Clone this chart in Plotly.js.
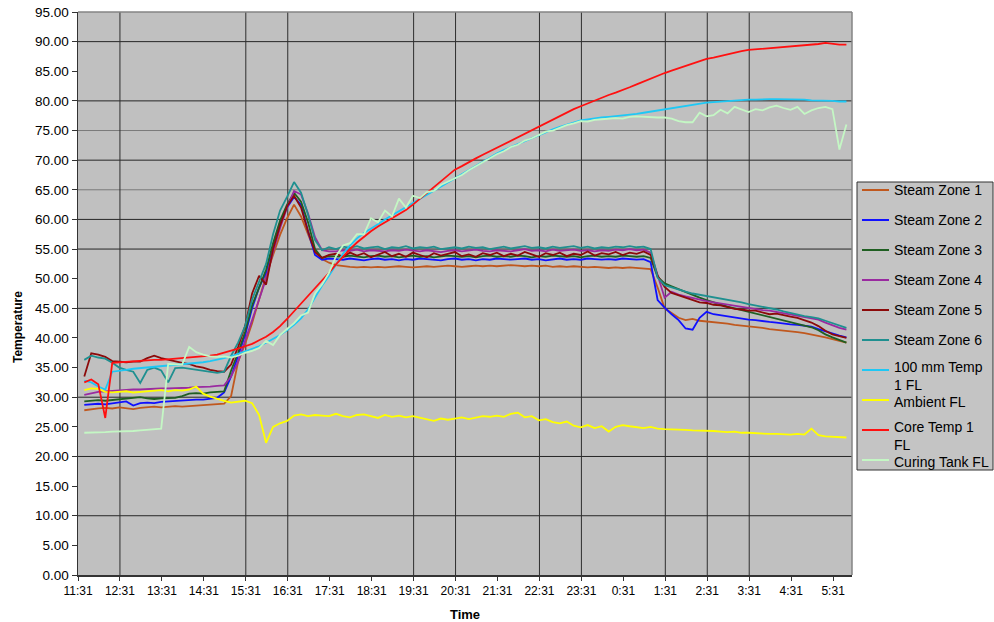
<!DOCTYPE html>
<html>
<head>
<meta charset="utf-8">
<script src="https://cdn.plot.ly/plotly-3.0.1.min.js"></script>
<style>
  html, body { margin: 0; padding: 0; background: #ffffff; }
  #chart { width: 994px; height: 622px; }
</style>
</head>
<body>
<div id="chart"></div>
<script>
// Hourly axis labels
const timeLabels = ['11:31','12:31','13:31','14:31','15:31','16:31','17:31','18:31','19:31','20:31',
  '21:31','22:31','23:31','0:31','1:31','2:31','3:31','4:31','5:31'];

// Logger sample times (every 10 minutes, overnight run)
const sampleTimes = [
  '11:40','11:50','12:00','12:10','12:20','12:30',
  '12:40','12:50','13:00','13:10','13:20','13:30',
  '13:40','13:50','14:00','14:10','14:20','14:30',
  '14:40','14:50','15:00','15:10','15:20','15:30',
  '15:40','15:50','16:00','16:10','16:20','16:30',
  '16:40','16:50','17:00','17:10','17:20','17:30',
  '17:40','17:50','18:00','18:10','18:20','18:30',
  '18:40','18:50','19:00','19:10','19:20','19:30',
  '19:40','19:50','20:00','20:10','20:20','20:30',
  '20:40','20:50','21:00','21:10','21:20','21:30',
  '21:40','21:50','22:00','22:10','22:20','22:30',
  '22:40','22:50','23:00','23:10','23:20','23:30',
  '23:40','23:50','0:00','0:10','0:20','0:30',
  '0:40','0:50','1:00','1:10','1:20','1:30',
  '1:40','1:50','2:00','2:10','2:20','2:30',
  '2:40','2:50','3:00','3:10','3:20','3:30',
  '3:40','3:50','4:00','4:10','4:20','4:30',
  '4:40','4:50','5:00','5:10','5:20','5:30',
  '5:40','5:50'
];

const steamZone1 = [
  27.8, 28.0, 28.1, 28.2, 28.1, 28.3,
  28.2, 28.0, 28.2, 28.3, 28.4, 28.3,
  28.4, 28.5, 28.4, 28.5, 28.6, 28.6,
  28.7, 28.8, 28.9, 30.2, 36.0, 39.0,
  42.5, 46.5, 50.5, 54.0, 57.4, 60.2,
  62.5, 60.5, 57.5, 54.5, 53.3, 52.7,
  52.3, 52.1, 52.0, 51.9, 52.0, 51.9,
  52.0, 51.9, 52.0, 52.1, 52.0, 51.9,
  52.0, 52.1, 52.0, 52.1, 52.2, 52.1,
  52.0, 52.1, 52.2, 52.1, 52.2, 52.1,
  52.2, 52.3, 52.2, 52.1, 52.2, 52.1,
  52.2, 52.0, 52.1, 52.0, 52.1, 52.0,
  51.9, 52.0, 51.9, 51.8, 51.9, 51.8,
  51.9, 51.8, 51.8, 51.6, 48.5, 45.0,
  44.2, 43.4, 43.0, 43.2, 42.9, 42.8,
  42.7, 42.5, 42.4, 42.2, 42.1, 41.9,
  41.8, 41.7, 41.5, 41.4, 41.3, 41.1,
  41.0, 40.8, 40.6, 40.4, 40.1, 39.8,
  39.5, 39.2
];

const steamZone2 = [
  28.7, 28.8, 28.9, 28.8, 29.0, 29.1,
  29.3, 28.6, 29.0, 29.1, 29.0, 29.2,
  29.3, 29.3, 29.4, 29.5, 29.6, 29.6,
  29.7, 29.9, 30.8, 33.5, 37.0, 40.5,
  45.0, 48.5, 51.0, 55.5, 59.5, 62.0,
  63.8, 62.5, 58.0, 54.0, 53.2, 53.4,
  53.3, 53.2, 53.4, 53.3, 53.1, 53.3,
  53.4, 53.2, 53.3, 53.1, 53.3, 53.2,
  53.4, 53.3, 53.2, 53.1, 53.3, 53.4,
  53.2, 53.3, 53.1, 53.3, 53.2, 53.4,
  53.3, 53.2, 53.3, 53.4, 53.2, 53.3,
  53.1, 53.3, 53.4, 53.2, 53.3, 53.2,
  53.4, 53.3, 53.2, 53.3, 53.2, 53.4,
  53.3, 53.2, 53.3, 52.8, 46.4, 45.1,
  44.0, 43.0, 41.6, 41.4, 43.4, 44.4,
  44.0, 43.8, 43.6, 43.4, 43.3, 43.1,
  43.0, 42.8, 42.7, 42.6, 42.4, 42.3,
  42.2, 42.0, 41.9, 41.5, 41.1, 40.7,
  40.4, 40.1
];

const steamZone3 = [
  29.3, 29.4, 29.5, 29.4, 29.5, 29.6,
  29.7, 29.8, 30.0, 29.8, 29.7, 29.8,
  29.9, 29.9, 30.2, 30.6, 30.7, 30.6,
  30.8, 30.9, 31.0, 34.5, 37.5, 41.0,
  45.5, 48.5, 51.5, 56.0, 59.8, 62.5,
  64.5, 63.0, 59.5, 55.0, 53.5, 53.8,
  53.8, 53.7, 53.9, 53.8, 53.6, 53.8,
  53.9, 53.7, 53.8, 53.6, 53.8, 53.9,
  53.7, 53.8, 53.6, 53.7, 53.9, 53.8,
  53.7, 53.8, 53.6, 53.8, 53.9, 53.7,
  53.8, 53.7, 53.9, 53.8, 53.6, 53.8,
  53.7, 53.9, 53.8, 53.7, 53.8, 53.6,
  53.8, 53.9, 53.7, 53.8, 53.7, 53.9,
  53.8, 53.7, 53.8, 53.5, 50.3, 49.2,
  48.7, 48.2, 47.8, 47.3, 46.8, 46.4,
  46.0, 45.6, 45.3, 45.0, 44.7, 44.4,
  44.1, 43.8, 43.5, 43.2, 42.9, 42.6,
  42.3, 42.1, 41.8, 41.3, 40.6, 40.1,
  39.6, 39.2
];

const steamZone4 = [
  30.4, 30.7, 30.9, 31.0, 31.1, 31.2,
  31.3, 31.3, 31.3, 31.4, 31.4, 31.5,
  31.5, 31.5, 31.6, 31.6, 31.7, 31.7,
  31.8, 31.9, 32.0, 33.5, 36.0, 39.5,
  43.0, 46.5, 50.0, 54.5, 58.5, 62.0,
  64.8, 64.2, 61.0, 57.0, 54.8, 54.6,
  54.6, 54.8, 54.7, 54.9, 54.6, 54.8,
  54.7, 54.6, 54.8, 54.7, 54.9, 54.7,
  54.6, 54.8, 54.7, 54.5, 54.7, 54.8,
  54.6, 54.7, 54.9, 54.7, 54.6, 54.8,
  54.7, 54.6, 54.8, 55.0, 54.7, 54.8,
  54.6, 54.9, 54.7, 54.8, 54.9, 54.7,
  54.8, 54.6, 54.8, 54.7, 54.9, 54.8,
  55.0, 54.8, 54.9, 54.4, 50.5, 46.8,
  47.8, 47.3, 47.0, 46.7, 46.4, 46.2,
  46.0, 45.8, 45.6, 45.4, 45.2, 45.0,
  44.9, 44.7, 44.6, 44.4, 44.2, 44.0,
  43.8, 43.6, 43.4, 43.1, 42.6, 42.1,
  41.7, 41.4
];

const steamZone5 = [
  33.5, 37.4, 37.2, 36.8, 36.1, 36.0,
  35.9, 36.0, 36.0, 36.6, 37.0, 36.6,
  36.3, 36.1, 35.8, 35.6, 35.2, 35.0,
  34.6, 34.4, 34.3, 35.5, 38.5, 42.0,
  47.5, 50.5, 49.0, 55.0, 59.0, 62.2,
  64.0, 62.0, 58.0, 54.5, 53.5, 54.0,
  54.2, 53.7, 54.4, 53.9, 54.3, 53.6,
  54.1, 54.5, 53.8, 54.2, 53.7, 54.4,
  54.0, 53.6, 54.3, 53.9, 54.2, 54.5,
  53.8, 54.1, 53.7, 54.3, 54.0, 54.4,
  53.8, 54.2, 53.9, 54.5, 54.1, 53.7,
  54.3, 54.0, 54.4, 53.8, 54.2, 54.0,
  54.6, 53.9, 54.3, 54.1, 54.5, 54.0,
  54.4, 54.2, 54.6, 54.0, 50.5, 48.6,
  47.6, 47.2, 46.8, 46.3, 46.0, 45.9,
  45.6, 45.5, 45.2, 44.9, 44.8, 44.6,
  44.6, 44.3, 44.0, 44.1, 43.8, 43.6,
  43.4, 43.0, 42.6, 42.0, 41.2, 40.6,
  40.3, 40.0
];

const steamZone6 = [
  36.3, 37.0, 36.7, 36.5, 35.8, 35.0,
  34.6, 34.3, 32.4, 34.6, 35.0, 34.5,
  32.5, 34.9, 35.0, 34.8, 34.6, 34.5,
  34.3, 34.1, 34.3, 37.0, 39.2, 42.0,
  46.5, 49.5, 52.5, 57.5, 61.5, 63.8,
  66.3, 64.5, 60.8, 56.5, 54.8, 55.3,
  55.0, 55.4, 55.2, 55.5, 55.1, 55.3,
  55.4, 55.0, 55.3, 55.2, 55.5, 55.1,
  55.3, 55.2, 55.4, 55.0, 55.2, 55.3,
  55.1, 55.4, 55.2, 55.3, 55.0, 55.2,
  55.4, 55.1, 55.3, 55.5, 55.2, 55.3,
  55.1, 55.4, 55.2, 55.3, 55.5, 55.2,
  55.4, 55.1, 55.3, 55.2, 55.4, 55.3,
  55.5, 55.3, 55.4, 55.0, 50.2, 48.9,
  48.5, 48.1, 47.8, 47.5, 47.3, 47.0,
  46.8, 46.6, 46.4, 46.2, 46.0, 45.7,
  45.5, 45.3, 45.0, 44.8, 44.5, 44.2,
  43.9, 43.7, 43.5, 43.3, 42.9, 42.5,
  42.1, 41.7
];

const probe100mm = [
  32.8, 32.5, 31.8, 31.3, 34.3, 34.4,
  34.6, 34.8, 34.9, 35.0, 35.1, 35.2,
  35.3, 35.4, 35.5, 35.6, 35.8, 35.9,
  36.1, 36.3, 36.6, 36.9, 37.3, 37.7,
  38.1, 38.6, 39.2, 39.8, 40.5, 41.3,
  42.2, 43.3, 44.8, 46.8, 48.8, 50.5,
  52.4, 54.2, 55.6, 56.8, 57.7, 58.4,
  59.2, 60.0, 60.7, 61.4, 62.1, 62.8,
  63.5, 64.2, 64.9, 65.6, 66.3, 67.0,
  67.7, 68.4, 69.1, 69.8, 70.5, 71.1,
  71.7, 72.2, 72.8, 73.3, 73.8, 74.3,
  74.8, 75.2, 75.6, 76.0, 76.4, 76.7,
  76.9, 77.1, 77.2, 77.3, 77.4, 77.5,
  77.7, 77.8, 78.0, 78.2, 78.4, 78.6,
  78.8, 79.0, 79.2, 79.4, 79.6, 79.7,
  79.8, 79.9, 80.0, 80.1, 80.1, 80.2,
  80.2, 80.3, 80.3, 80.3, 80.3, 80.3,
  80.2, 80.2, 80.1, 80.1, 80.0, 80.0,
  79.9, 79.9
];

const ambient = [
  31.2, 31.5, 31.4, 30.9, 30.8, 30.9,
  31.0, 30.8, 30.9, 31.1, 31.2, 31.2,
  31.0, 31.2, 31.1, 31.3, 31.8, 30.6,
  30.1, 29.7, 29.4, 29.1, 29.2, 29.4,
  29.0, 27.0, 22.3, 25.0, 25.6, 26.0,
  26.9, 27.1, 26.8, 27.0, 26.9, 26.8,
  27.2, 26.8, 26.6, 27.0, 27.1, 26.8,
  26.5, 27.0, 26.7, 26.9, 26.6, 26.8,
  26.5, 26.2, 26.0, 26.4, 26.2, 26.4,
  26.6, 26.3, 26.6, 26.8, 26.7, 26.9,
  26.7, 27.2, 27.4, 26.6, 26.8, 26.1,
  26.3, 25.8, 25.6, 25.9, 25.2, 24.9,
  25.3, 24.8, 25.1, 24.2, 25.0, 25.3,
  25.1, 25.0, 24.8, 25.0, 24.7, 24.6,
  24.6, 24.5, 24.5, 24.4, 24.4, 24.4,
  24.3, 24.2, 24.1, 24.2, 24.0, 24.0,
  23.9, 23.9, 23.8, 23.8, 23.7, 23.7,
  23.8, 23.7, 24.7, 23.6, 23.4, 23.3,
  23.3, 23.2
];

const coreTemp = [
  32.5, 33.0, 32.2, 26.5, 35.8, 35.9,
  36.0, 36.1, 36.2, 36.2, 36.3, 36.3,
  36.4, 36.5, 36.6, 36.6, 36.7, 36.9,
  37.0, 37.2, 37.5, 37.8, 38.2, 38.6,
  39.0, 39.6, 40.2, 41.0, 42.0, 43.2,
  44.5, 45.8, 47.0, 48.3, 49.7, 51.0,
  52.4, 53.7, 55.0, 56.1, 57.1, 58.0,
  58.8, 59.5, 60.1, 60.8, 61.6, 62.5,
  63.5, 64.5, 65.5, 66.5, 67.4, 68.4,
  69.0, 69.7, 70.3, 70.9, 71.5, 72.1,
  72.7, 73.3, 73.9, 74.5, 75.1, 75.7,
  76.3, 76.9, 77.5, 78.0, 78.6, 79.1,
  79.6, 80.1, 80.5, 81.0, 81.4, 81.8,
  82.3, 82.8, 83.3, 83.8, 84.2, 84.7,
  85.1, 85.5, 85.9, 86.3, 86.7, 87.1,
  87.3, 87.6, 87.9, 88.1, 88.4, 88.6,
  88.7, 88.8, 88.9, 89.0, 89.1, 89.2,
  89.3, 89.3, 89.4, 89.6, 89.8, 89.6,
  89.5, 89.5
];

const curingTank = [
  24.0, 24.0, 24.1, 24.1, 24.2, 24.2,
  24.3, 24.3, 24.4, 24.5, 24.6, 24.7,
  35.6, 35.5, 35.5, 38.5, 37.6, 37.2,
  36.9, 36.8, 36.9, 36.7, 37.0, 37.5,
  37.8, 38.3, 39.5, 38.8, 40.5, 41.5,
  42.5, 43.8, 44.3, 47.5, 49.0, 51.0,
  53.8, 55.6, 56.0, 57.5, 57.5, 60.2,
  59.5, 61.5, 60.5, 63.5, 62.0, 64.0,
  63.6, 64.6, 64.8, 65.8, 66.4, 67.0,
  67.5, 68.3, 69.0, 69.7, 70.3, 71.0,
  71.5, 72.2, 72.6, 73.3, 73.7, 74.3,
  74.8, 75.0, 75.5, 75.9, 76.2, 76.6,
  76.5, 76.8, 76.9, 77.0, 77.1, 77.0,
  77.3, 77.4, 77.3, 77.2, 77.2, 77.2,
  77.0, 76.6, 76.4, 76.4, 78.0, 77.4,
  77.6, 78.5, 77.9, 79.0, 78.6, 78.1,
  78.6, 78.4, 78.9, 79.2, 78.8, 78.5,
  79.0, 77.8, 78.4, 78.8, 79.0, 78.6,
  71.8, 76.0
];

const seriesNames = ['Steam Zone 1', 'Steam Zone 2', 'Steam Zone 3', 'Steam Zone 4', 'Steam Zone 5',
  'Steam Zone 6', '100 mm Temp<br>1 FL', 'Ambient FL', 'Core Temp 1<br>FL', 'Curing Tank FL'];
const seriesValues = [steamZone1, steamZone2, steamZone3, steamZone4, steamZone5,
  steamZone6, probe100mm, ambient, coreTemp, curingTank];
const seriesColors = ['#c0581e', '#1010ff', '#1f5f22', '#9a2aa0', '#8c0a0a',
  '#1f9090', '#1ec8f5', '#ffff00', '#ff1010', '#c4f7c4'];

// Grid lines that are drawn across the plot
const gridTemps = [90, 80, 70, 60, 55, 45, 30, 20, 10];
const lightGridTemps = [75, 65];
const gridTimes = ['12:31', '15:31', '16:31', '19:31', '20:31', '22:31', '23:31', '1:31', '2:31', '3:31'];

// hours elapsed since 11:31, wrapping past midnight
function hoursFromStart(t) {
  const parts = t.split(':').map(Number);
  let mins = parts[0] * 60 + parts[1] - (11 * 60 + 31);
  if (mins < 0) mins += 24 * 60;
  return mins / 60;
}

const W = 994, H = 622;
const M = { l: 78, r: 142, t: 12, b: 47 };
const plotW = W - M.l - M.r, plotH = H - M.t - M.b;
// page pixel -> paper fraction
const px = x => (x - M.l) / plotW;
const py = y => (H - M.b - y) / plotH;

const xs = sampleTimes.map(hoursFromStart);
const fontFamily = 'Liberation Sans, Arial, Helvetica, sans-serif';

const traces = seriesNames.map((name, i) => ({
  type: 'scatter',
  mode: 'lines',
  name: name.replace('<br>', ' '),
  x: xs,
  y: seriesValues[i],
  line: { color: seriesColors[i], width: 1.8 },
  hoverinfo: 'skip',
  showlegend: false
}));

const shapes = [];
gridTemps.forEach(v => shapes.push({
  type: 'line', xref: 'paper', x0: 0, x1: 1, yref: 'y', y0: v, y1: v,
  line: { color: '#262626', width: 1 }, layer: 'below'
}));
lightGridTemps.forEach(v => shapes.push({
  type: 'line', xref: 'paper', x0: 0, x1: 1, yref: 'y', y0: v, y1: v,
  line: { color: '#7a7a7a', width: 1 }, layer: 'below'
}));
gridTimes.forEach(t => shapes.push({
  type: 'line', xref: 'x', x0: hoursFromStart(t), x1: hoursFromStart(t), yref: 'paper', y0: 0, y1: 1,
  line: { color: '#2e2e2e', width: 1 }, layer: 'below'
}));
// top and right border of the plot area
shapes.push({ type: 'line', xref: 'paper', x0: 0, x1: 1, yref: 'paper', y0: 1, y1: 1,
  line: { color: '#858585', width: 1.5 }, layer: 'above' });
shapes.push({ type: 'line', xref: 'paper', x0: 1, x1: 1, yref: 'paper', y0: 0, y1: 1,
  line: { color: '#858585', width: 1.5 }, layer: 'above' });

// Legend box: fixed 30 px rows, wrapped names run into the next row
const legendBox = { left: 857, top: 182, right: 993, bottom: 470 };
const legendRow0 = 190, legendRowStep = 30;
const annotations = [];
shapes.push({ type: 'rect', xref: 'paper', yref: 'paper',
  x0: px(legendBox.left), x1: px(legendBox.right), y0: py(legendBox.top), y1: py(legendBox.bottom),
  fillcolor: '#c4c4c4', line: { color: '#333333', width: 1 }, layer: 'above' });
seriesNames.forEach((name, i) => {
  const rowY = legendRow0 + i * legendRowStep;
  const wrapped = name.includes('<br>');
  const afterWrapped = i > 0 && seriesNames[i - 1].includes('<br>');
  // nudge wrapped labels up and the following label down so the lines stay clear
  const textY = rowY + (wrapped ? -3 : 0) + (afterWrapped ? 2 : 0);
  shapes.push({ type: 'line', xref: 'paper', yref: 'paper',
    x0: px(862), x1: px(889), y0: py(rowY), y1: py(rowY),
    line: { color: seriesColors[i], width: 2 }, layer: 'above' });
  annotations.push({ xref: 'paper', yref: 'paper', x: px(892), y: py(textY - 10),
    xanchor: 'left', yanchor: 'top', align: 'left', showarrow: false,
    text: name, font: { family: fontFamily, size: 14, color: '#000000' } });
});

// vertical axis title
annotations.push({ xref: 'paper', yref: 'paper', x: px(18), y: py(327),
  xanchor: 'center', yanchor: 'middle', textangle: -90, showarrow: false,
  text: '<b>Temperature</b>', font: { family: fontFamily, size: 12, color: '#000000' } });

const layout = {
  width: W,
  height: H,
  margin: { l: M.l, r: M.r, t: M.t, b: M.b, autoexpand: false },
  paper_bgcolor: '#ffffff',
  plot_bgcolor: '#c0c0c0',
  font: { family: fontFamily, color: '#000000' },
  showlegend: false,
  xaxis: {
    range: [0, 18.45],
    tickmode: 'array',
    tickvals: timeLabels.map(hoursFromStart),
    ticktext: timeLabels,
    ticks: 'outside', ticklen: 4, tickcolor: '#333333', tickwidth: 1,
    tickfont: { family: fontFamily, size: 12, color: '#000000' },
    showgrid: false, zeroline: false,
    showline: true, linecolor: '#333333', linewidth: 1.5,
    title: { text: '<b>Time</b>', font: { family: fontFamily, size: 13, color: '#000000' }, standoff: 14 }
  },
  yaxis: {
    range: [0, 95],
    dtick: 5, tick0: 0,
    tickformat: '.2f',
    ticks: 'outside', ticklen: 5, tickcolor: '#333333', tickwidth: 1,
    tickfont: { family: fontFamily, size: 13.5, color: '#000000' },
    showgrid: false, zeroline: false,
    showline: true, linecolor: '#333333', linewidth: 1.5
  },
  shapes: shapes,
  annotations: annotations
};

Plotly.newPlot('chart', traces, layout, { displayModeBar: false, staticPlot: true });
</script>
</body>
</html>
